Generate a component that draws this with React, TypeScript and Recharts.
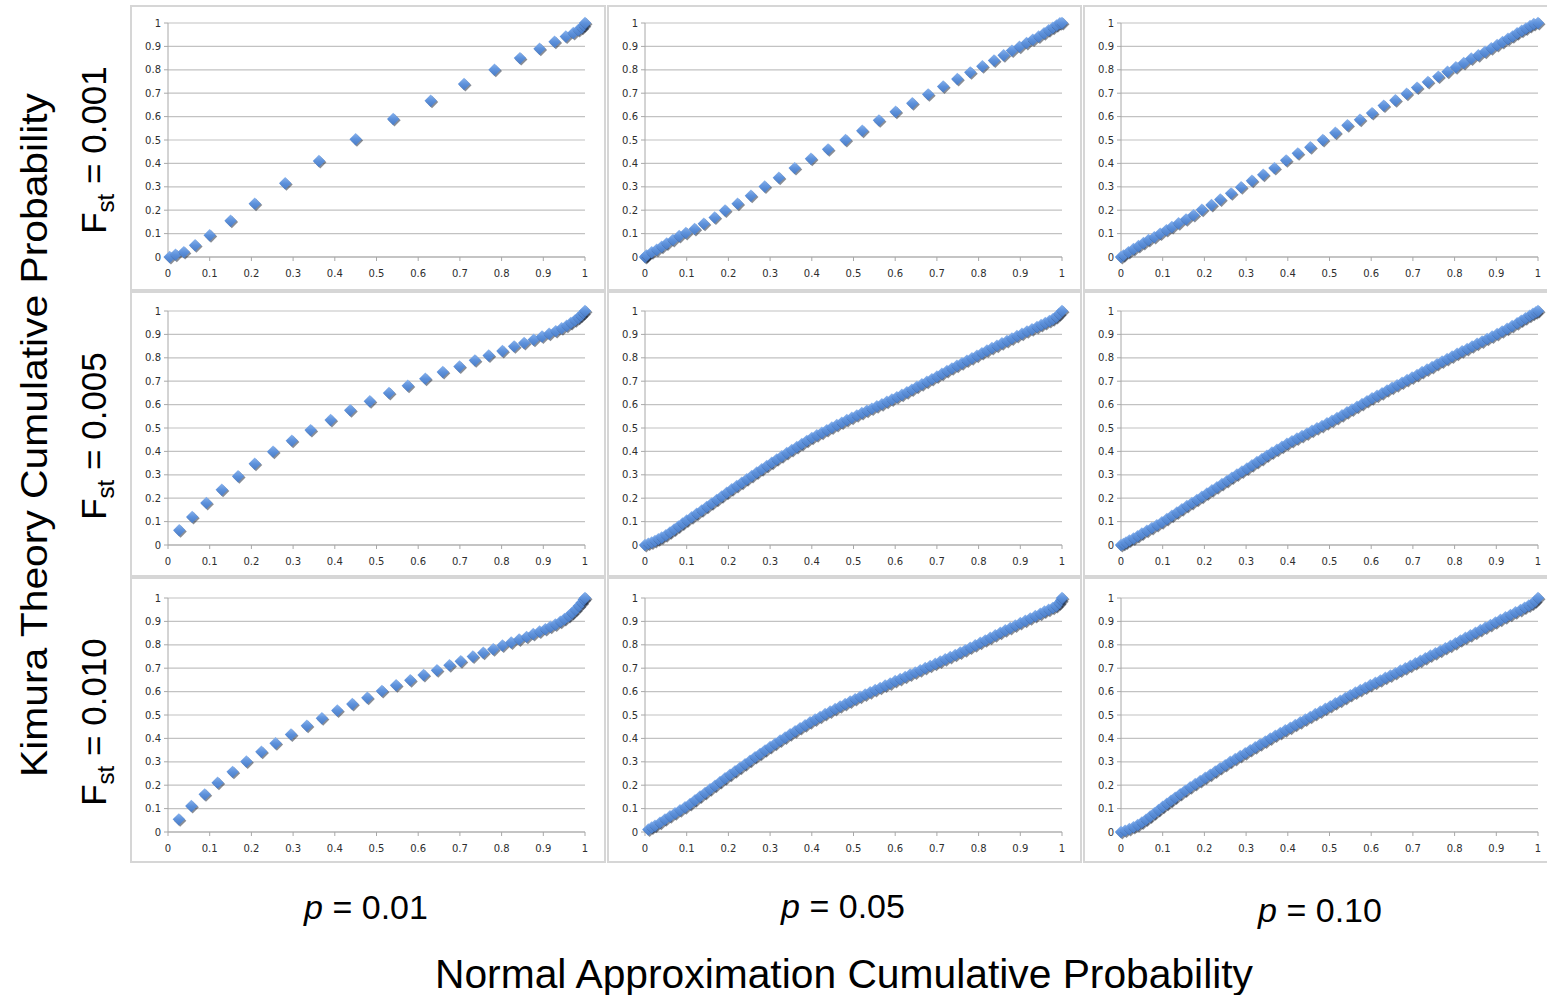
import React from 'react'
import { ScatterChart, Scatter, XAxis, YAxis, CartesianGrid } from 'recharts'

type Pt = [number, number]

const axisTicks = [0, 0.1, 0.2, 0.3, 0.4, 0.5, 0.6, 0.7, 0.8, 0.9, 1]
const colLabels = ['0.01', '0.05', '0.10']
const rowLabels = ['0.001', '0.005', '0.010']

// p = 0.01
const p01f001: Pt[] = [
  [0.004, 0.0], [0.018, 0.01], [0.038, 0.021], [0.065, 0.05], [0.1, 0.093], [0.15, 0.155],
  [0.208, 0.228], [0.281, 0.315], [0.362, 0.41], [0.45, 0.503], [0.54, 0.59], [0.63, 0.668],
  [0.71, 0.739], [0.783, 0.8], [0.844, 0.85], [0.891, 0.89], [0.927, 0.92], [0.954, 0.942],
  [0.972, 0.957], [0.984, 0.97], [0.992, 0.98], [0.997, 0.99], [1, 1],
]
const p01f005: Pt[] = [
  [0.027, 0.063], [0.058, 0.12], [0.092, 0.18], [0.129, 0.236], [0.168, 0.294], [0.208, 0.347],
  [0.252, 0.399], [0.297, 0.446], [0.342, 0.491], [0.39, 0.534], [0.437, 0.576], [0.484, 0.614],
  [0.53, 0.65], [0.575, 0.681], [0.617, 0.711], [0.659, 0.739], [0.699, 0.763], [0.736, 0.789],
  [0.769, 0.81], [0.802, 0.829], [0.83, 0.849], [0.854, 0.863], [0.877, 0.877], [0.897, 0.891],
  [0.914, 0.903], [0.93, 0.914], [0.944, 0.926], [0.956, 0.937], [0.966, 0.949], [0.976, 0.96],
  [0.984, 0.971], [0.99, 0.981], [0.996, 0.991], [1, 1],
]
const p01f010: Pt[] = [
  [0.026, 0.054], [0.056, 0.111], [0.088, 0.161], [0.119, 0.211], [0.155, 0.257], [0.188, 0.301],
  [0.224, 0.343], [0.258, 0.379], [0.295, 0.417], [0.333, 0.454], [0.369, 0.486], [0.406, 0.519],
  [0.442, 0.547], [0.478, 0.574], [0.513, 0.603], [0.547, 0.627], [0.581, 0.649], [0.613, 0.671],
  [0.645, 0.691], [0.675, 0.713], [0.702, 0.73], [0.731, 0.75], [0.756, 0.766], [0.78, 0.781],
  [0.802, 0.797], [0.823, 0.81], [0.842, 0.823], [0.86, 0.834], [0.876, 0.846], [0.891, 0.857],
  [0.905, 0.867], [0.917, 0.877], [0.929, 0.887], [0.941, 0.899], [0.951, 0.91], [0.961, 0.923],
  [0.969, 0.936], [0.977, 0.95], [0.985, 0.966], [0.992, 0.98], [0.997, 0.994], [1, 1],
]

// p = 0.05
const p05f001: Pt[] = [
  [0, 0], [0.002, 0.003], [0.004, 0.007], [0.016, 0.02], [0.028, 0.031], [0.04, 0.044],
  [0.052, 0.058], [0.067, 0.073], [0.082, 0.09], [0.098, 0.103], [0.119, 0.12], [0.141, 0.142],
  [0.167, 0.169], [0.192, 0.199], [0.222, 0.228], [0.254, 0.262], [0.287, 0.301], [0.321, 0.339],
  [0.359, 0.38], [0.398, 0.42], [0.439, 0.46], [0.481, 0.5], [0.521, 0.54], [0.561, 0.584],
  [0.601, 0.621], [0.641, 0.657], [0.679, 0.695], [0.715, 0.729], [0.749, 0.761], [0.78, 0.789],
  [0.809, 0.815], [0.837, 0.84], [0.86, 0.862], [0.88, 0.882], [0.898, 0.899], [0.915, 0.915],
  [0.93, 0.929], [0.944, 0.942], [0.957, 0.956], [0.968, 0.969], [0.978, 0.98], [0.987, 0.99],
  [0.995, 0.999], [1, 1],
]
const p05f005: Pt[] = [
  [0, 0], [0.008, 0.006], [0.016, 0.011], [0.024, 0.017], [0.032, 0.025], [0.04, 0.032],
  [0.05, 0.042], [0.06, 0.054], [0.07, 0.066], [0.08, 0.079], [0.09, 0.092], [0.1, 0.105],
  [0.112, 0.119], [0.124, 0.134], [0.136, 0.148], [0.148, 0.163], [0.16, 0.178], [0.172, 0.193],
  [0.184, 0.208], [0.196, 0.223], [0.208, 0.238], [0.22, 0.252], [0.232, 0.266], [0.244, 0.281],
  [0.256, 0.295], [0.268, 0.31], [0.28, 0.324], [0.292, 0.338], [0.304, 0.352], [0.316, 0.366],
  [0.328, 0.379], [0.34, 0.393], [0.352, 0.406], [0.364, 0.419], [0.376, 0.432], [0.388, 0.445],
  [0.4, 0.458], [0.412, 0.469], [0.424, 0.48], [0.436, 0.491], [0.448, 0.502], [0.46, 0.513],
  [0.472, 0.523], [0.484, 0.534], [0.496, 0.544], [0.508, 0.554], [0.52, 0.564], [0.532, 0.574],
  [0.544, 0.583], [0.556, 0.593], [0.568, 0.602], [0.58, 0.612], [0.592, 0.622], [0.604, 0.632],
  [0.616, 0.642], [0.628, 0.653], [0.64, 0.664], [0.652, 0.676], [0.664, 0.687], [0.676, 0.698],
  [0.688, 0.709], [0.7, 0.72], [0.712, 0.732], [0.724, 0.744], [0.736, 0.755], [0.748, 0.766],
  [0.76, 0.777], [0.772, 0.788], [0.784, 0.798], [0.796, 0.809], [0.808, 0.82], [0.82, 0.831],
  [0.832, 0.842], [0.844, 0.852], [0.856, 0.862], [0.868, 0.872], [0.88, 0.883], [0.892, 0.893],
  [0.904, 0.903], [0.916, 0.913], [0.928, 0.922], [0.94, 0.932], [0.95, 0.94], [0.96, 0.949],
  [0.97, 0.957], [0.978, 0.965], [0.986, 0.974], [0.993, 0.987], [1, 1],
]
const p05f010: Pt[] = [
  [0.008, 0.011], [0.016, 0.019], [0.024, 0.027], [0.036, 0.04], [0.048, 0.054], [0.06, 0.067],
  [0.072, 0.08], [0.084, 0.093], [0.096, 0.106], [0.108, 0.12], [0.12, 0.136], [0.132, 0.152],
  [0.144, 0.167], [0.156, 0.183], [0.168, 0.198], [0.18, 0.214], [0.192, 0.23], [0.204, 0.245],
  [0.216, 0.26], [0.228, 0.275], [0.24, 0.29], [0.252, 0.305], [0.264, 0.32], [0.276, 0.334],
  [0.288, 0.349], [0.3, 0.363], [0.312, 0.377], [0.324, 0.391], [0.336, 0.404], [0.348, 0.418],
  [0.36, 0.431], [0.372, 0.444], [0.384, 0.456], [0.396, 0.469], [0.408, 0.481], [0.42, 0.492],
  [0.432, 0.504], [0.444, 0.515], [0.456, 0.526], [0.468, 0.537], [0.48, 0.547], [0.492, 0.558],
  [0.504, 0.568], [0.516, 0.578], [0.528, 0.588], [0.54, 0.597], [0.552, 0.607], [0.564, 0.616],
  [0.576, 0.626], [0.588, 0.635], [0.6, 0.645], [0.612, 0.654], [0.624, 0.663], [0.636, 0.673],
  [0.648, 0.682], [0.66, 0.691], [0.672, 0.701], [0.684, 0.71], [0.696, 0.719], [0.708, 0.729],
  [0.72, 0.738], [0.732, 0.748], [0.744, 0.757], [0.756, 0.767], [0.768, 0.777], [0.78, 0.788],
  [0.792, 0.798], [0.804, 0.809], [0.816, 0.819], [0.828, 0.83], [0.84, 0.841], [0.852, 0.852],
  [0.864, 0.862], [0.876, 0.872], [0.888, 0.883], [0.9, 0.893], [0.912, 0.903], [0.924, 0.913],
  [0.936, 0.923], [0.948, 0.933], [0.958, 0.942], [0.968, 0.95], [0.978, 0.958], [0.986, 0.966],
  [0.993, 0.978], [0.998, 0.99], [1, 1],
]

// p = 0.10
const p10f001: Pt[] = [
  [0, 0], [0.006, 0.007], [0.018, 0.021], [0.03, 0.034], [0.042, 0.047], [0.054, 0.06],
  [0.066, 0.073], [0.08, 0.085], [0.094, 0.1], [0.109, 0.115], [0.122, 0.128], [0.138, 0.144],
  [0.156, 0.161], [0.174, 0.179], [0.194, 0.202], [0.217, 0.222], [0.238, 0.246], [0.264, 0.272],
  [0.288, 0.298], [0.314, 0.326], [0.341, 0.352], [0.368, 0.38], [0.396, 0.413], [0.424, 0.443],
  [0.454, 0.469], [0.484, 0.5], [0.514, 0.531], [0.543, 0.563], [0.573, 0.587], [0.602, 0.615],
  [0.63, 0.647], [0.658, 0.67], [0.685, 0.698], [0.71, 0.724], [0.736, 0.748], [0.761, 0.771],
  [0.783, 0.792], [0.803, 0.811], [0.822, 0.829], [0.84, 0.848], [0.857, 0.862], [0.873, 0.877],
  [0.888, 0.892], [0.902, 0.906], [0.915, 0.919], [0.928, 0.933], [0.939, 0.943], [0.95, 0.956],
  [0.961, 0.967], [0.971, 0.977], [0.981, 0.987], [0.99, 0.996], [1, 1],
]
const p10f005: Pt[] = [
  [0, 0], [0.006, 0.005], [0.012, 0.011], [0.02, 0.019], [0.03, 0.028], [0.04, 0.038],
  [0.05, 0.049], [0.062, 0.061], [0.074, 0.073], [0.086, 0.085], [0.098, 0.097], [0.11, 0.111],
  [0.122, 0.125], [0.134, 0.139], [0.146, 0.153], [0.158, 0.167], [0.17, 0.18], [0.182, 0.193],
  [0.194, 0.206], [0.206, 0.22], [0.218, 0.234], [0.23, 0.247], [0.242, 0.261], [0.254, 0.274],
  [0.266, 0.288], [0.278, 0.301], [0.29, 0.314], [0.302, 0.327], [0.314, 0.341], [0.326, 0.355],
  [0.338, 0.368], [0.35, 0.382], [0.362, 0.395], [0.374, 0.407], [0.386, 0.42], [0.398, 0.433],
  [0.41, 0.444], [0.422, 0.455], [0.434, 0.466], [0.446, 0.477], [0.458, 0.488], [0.47, 0.499],
  [0.482, 0.509], [0.494, 0.52], [0.506, 0.531], [0.518, 0.543], [0.53, 0.555], [0.542, 0.567],
  [0.554, 0.579], [0.566, 0.591], [0.578, 0.603], [0.59, 0.615], [0.602, 0.627], [0.614, 0.638],
  [0.626, 0.649], [0.638, 0.661], [0.65, 0.672], [0.662, 0.683], [0.674, 0.694], [0.686, 0.705],
  [0.698, 0.716], [0.71, 0.727], [0.722, 0.739], [0.734, 0.75], [0.746, 0.761], [0.758, 0.773],
  [0.77, 0.784], [0.782, 0.795], [0.794, 0.806], [0.806, 0.817], [0.818, 0.828], [0.83, 0.838],
  [0.842, 0.849], [0.854, 0.86], [0.866, 0.87], [0.878, 0.881], [0.89, 0.891], [0.902, 0.902],
  [0.914, 0.913], [0.926, 0.924], [0.938, 0.936], [0.95, 0.948], [0.96, 0.959], [0.97, 0.969],
  [0.98, 0.98], [0.988, 0.988], [0.995, 0.995], [1, 1],
]
const p10f010: Pt[] = [
  [0, 0], [0.01, 0.006], [0.02, 0.013], [0.03, 0.021], [0.04, 0.03], [0.05, 0.041],
  [0.06, 0.053], [0.07, 0.066], [0.08, 0.08], [0.09, 0.094], [0.1, 0.108], [0.11, 0.121],
  [0.12, 0.134], [0.13, 0.147], [0.142, 0.162], [0.154, 0.177], [0.166, 0.191], [0.178, 0.205],
  [0.19, 0.218], [0.202, 0.232], [0.214, 0.245], [0.226, 0.259], [0.238, 0.273], [0.25, 0.286],
  [0.262, 0.3], [0.274, 0.312], [0.286, 0.325], [0.298, 0.337], [0.31, 0.35], [0.322, 0.362],
  [0.334, 0.375], [0.346, 0.387], [0.358, 0.4], [0.37, 0.412], [0.382, 0.423], [0.394, 0.435],
  [0.406, 0.446], [0.418, 0.458], [0.43, 0.469], [0.442, 0.481], [0.454, 0.492], [0.466, 0.504],
  [0.478, 0.515], [0.49, 0.527], [0.502, 0.538], [0.514, 0.55], [0.526, 0.561], [0.538, 0.573],
  [0.55, 0.585], [0.562, 0.596], [0.574, 0.607], [0.586, 0.617], [0.598, 0.628], [0.61, 0.638],
  [0.622, 0.648], [0.634, 0.659], [0.646, 0.669], [0.658, 0.679], [0.67, 0.69], [0.682, 0.7],
  [0.694, 0.711], [0.706, 0.721], [0.718, 0.732], [0.73, 0.743], [0.742, 0.754], [0.754, 0.764],
  [0.766, 0.775], [0.778, 0.786], [0.79, 0.796], [0.802, 0.807], [0.814, 0.819], [0.826, 0.83],
  [0.838, 0.841], [0.85, 0.852], [0.862, 0.863], [0.874, 0.874], [0.886, 0.885], [0.898, 0.896],
  [0.91, 0.907], [0.922, 0.918], [0.934, 0.928], [0.946, 0.939], [0.958, 0.949], [0.968, 0.959],
  [0.978, 0.968], [0.986, 0.976], [0.993, 0.986], [1, 1],
]

// rows = Fst, columns = p
const grid: Pt[][][] = [
  [p01f001, p05f001, p10f001],
  [p01f005, p05f005, p10f005],
  [p01f010, p05f010, p10f010],
]

const colBoxX = [130, 607, 1083]
const colBoxW = [476, 475, 470]
const rowBoxY = [5, 291, 577]
const plotLeft = [168, 645, 1121]
const plotTop = [23, 311, 598]

const tickStyle = { fontSize: 10, fill: '#2e2e2e', fontFamily: 'DejaVu Sans' }

function Diamond(props: any) {
  const { cx, cy } = props
  if (cx == null || cy == null) return null
  const r = 6.2
  const d = (ox: number, oy: number) =>
    `M${cx + ox},${cy + oy - r}L${cx + ox + r},${cy + oy}L${cx + ox},${cy + oy + r}L${cx + ox - r},${cy + oy}Z`
  return (
    <g>
      <path d={d(1.3, 1.3)} fill="#121c2e" fillOpacity={0.5} />
      <path d={d(0, 0)} fill="url(#diamondFill)" />
    </g>
  )
}

function Panel({ points, row, col }: { points: Pt[]; row: number; col: number }) {
  const data = points.map(([x, y]) => ({ x, y }))
  return (
    <div style={{ position: 'absolute', left: plotLeft[col] - 36, top: plotTop[row] - 16 }}>
      <ScatterChart
        width={471}
        height={282}
        margin={{ top: 16, right: 18, bottom: 2, left: 6 }}
        style={{ overflow: 'visible' }}
      >
        <CartesianGrid vertical={false} stroke="#c2c2c2" strokeWidth={1.2} />
        <XAxis
          type="number"
          dataKey="x"
          domain={[0, 1]}
          ticks={axisTicks}
          interval={0}
          height={30}
          tickSize={4}
          tickMargin={9}
          stroke="#a8a8a8"
          tick={tickStyle}
        />
        <YAxis
          type="number"
          dataKey="y"
          domain={[0, 1]}
          ticks={axisTicks}
          interval={0}
          width={30}
          tickSize={4}
          tickMargin={3}
          stroke="#a8a8a8"
          tick={tickStyle}
        />
        <Scatter data={data} shape={Diamond} isAnimationActive={false} />
      </ScatterChart>
    </div>
  )
}

export default function App() {
  return (
    <div
      style={{
        position: 'absolute',
        left: 0,
        top: 0,
        width: 1547,
        height: 995,
        background: '#fff',
        overflow: 'hidden',
      }}
    >
      <svg width={0} height={0} style={{ position: 'absolute' }}>
        <defs>
          <linearGradient id="diamondFill" x1="0" y1="0" x2="0" y2="1">
            <stop offset="0%" stopColor="#8ab4ee" />
            <stop offset="50%" stopColor="#5d91db" />
            <stop offset="100%" stopColor="#4a7cc6" />
          </linearGradient>
        </defs>
      </svg>

      {rowBoxY.map((y, r) =>
        colBoxX.map((x, c) => (
          <div
            key={`box-${r}-${c}`}
            style={{
              position: 'absolute',
              left: x,
              top: y,
              width: colBoxW[c],
              height: 286,
              border: '2px solid #d6d6d6',
              boxSizing: 'border-box',
            }}
          />
        ))
      )}

      {grid.map((rowSets, r) =>
        rowSets.map((pts, c) => <Panel key={`p-${r}-${c}`} points={pts} row={r} col={c} />)
      )}

      <svg
        width={1547}
        height={995}
        style={{ position: 'absolute', left: 0, top: 0, pointerEvents: 'none' }}
        fontFamily="Liberation Sans, Arial, sans-serif"
        fill="#000"
      >
        <text
          transform="translate(47,435) rotate(-90)"
          textAnchor="middle"
          fontSize={37}
          textLength={684}
          lengthAdjust="spacingAndGlyphs"
        >
          Kimura Theory Cumulative Probability
        </text>
        {rowLabels.map((v, r) => (
          <text
            key={v}
            transform={`translate(106,${[150, 436, 722][r]}) rotate(-90)`}
            textAnchor="middle"
            fontSize={35}
          >
            <tspan>F</tspan>
            <tspan fontSize={24} dy={8}>st</tspan>
            <tspan dy={-8}> = {v}</tspan>
          </text>
        ))}
        {colLabels.map((v, c) => (
          <text key={v} x={[366, 843, 1320][c]} y={[919, 918, 922][c]} textAnchor="middle" fontSize={34}>
            <tspan fontStyle="italic">p</tspan> = {v}
          </text>
        ))}
        <text
          x={844}
          y={988}
          textAnchor="middle"
          fontSize={40}
          textLength={818}
          lengthAdjust="spacingAndGlyphs"
        >
          Normal Approximation Cumulative Probability
        </text>
      </svg>
    </div>
  )
}
